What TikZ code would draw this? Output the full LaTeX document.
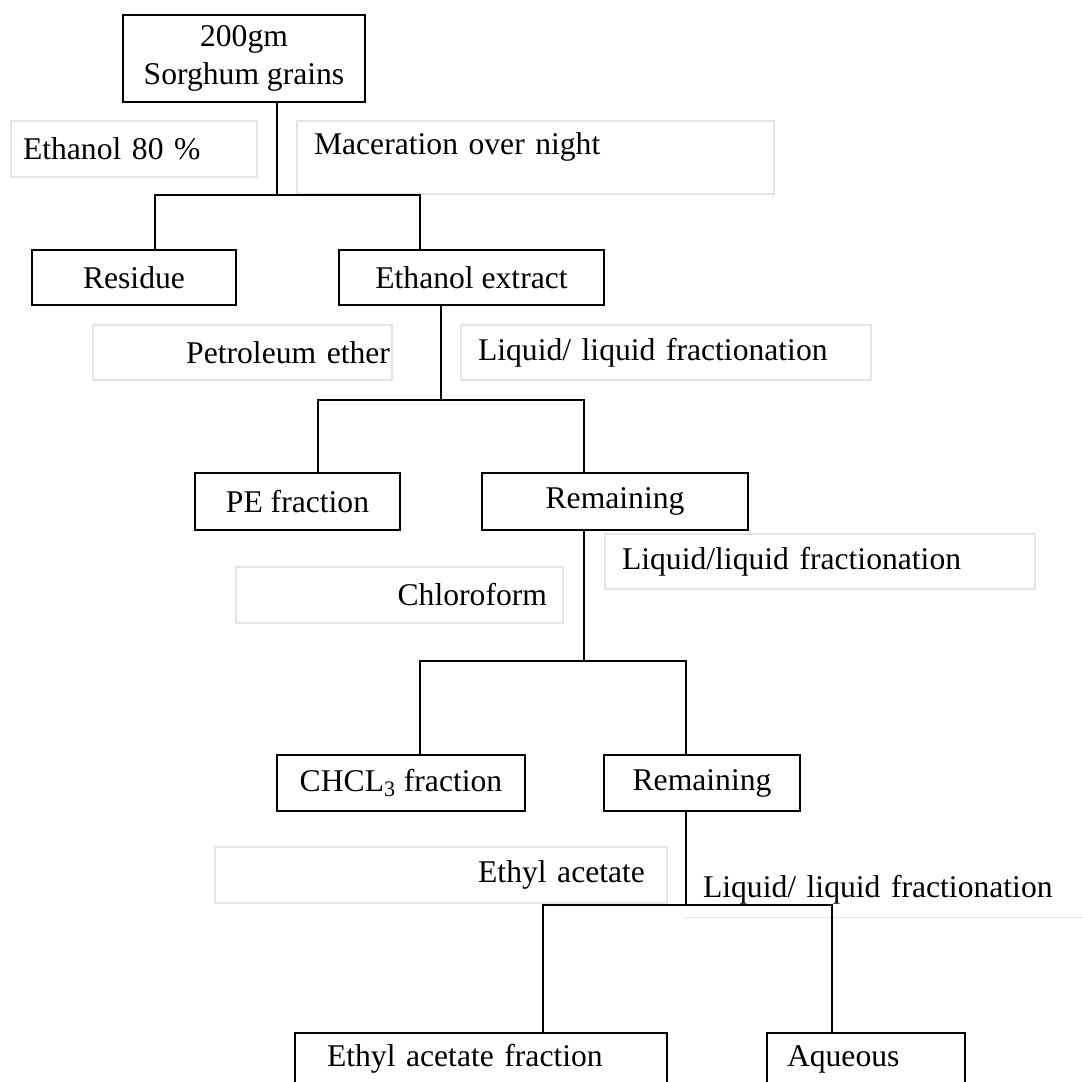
\documentclass[tikz,border=0pt]{standalone}
\usepackage{fontspec}
\setmainfont{Liberation Serif}
\usetikzlibrary{positioning}
\definecolor{faint}{HTML}{E4E4E4}

\begin{document}
\begin{tikzpicture}[x=0.02cm, y=-0.02cm,
      box/.style={draw, line width=1pt, align=center, inner sep=0pt, font=\fontsize{18}{22}\selectfont},
      note/.style={draw=faint, line width=0.7pt, inner ysep=0pt, font=\fontsize{18}{22}\selectfont},
      link/.style={line width=1pt}]
    \useasboundingbox (0,0) rectangle (1083,1082);
    % boxes
    \node[box, minimum width=4.84cm, minimum height=1.74cm] (grain) at (244,58.5) {200gm\\Sorghum grains};
    \node[box, minimum width=4.08cm, minimum height=1.10cm] (resid) at (134,277.5) {Residue};
    \node[box, minimum width=5.30cm, minimum height=1.10cm] (ethx) at (471.5,277.5) {Ethanol extract};
    \node[box, minimum width=4.10cm, minimum height=1.14cm] (pefr) at (297.5,501.5) {PE fraction};
    \node[box, minimum width=5.32cm, minimum height=1.14cm] (rema) at (615,501.5) {Remaining};
    \node[box, minimum width=4.96cm, minimum height=1.12cm] (chfr) at (401,783) {CHCL\textsubscript{3} fraction};
    \node[box, minimum width=3.92cm, minimum height=1.12cm] (remb) at (702,783) {Remaining};
    \node[box, text width=6.16cm, inner xsep=0.64cm, align=left, minimum height=1.04cm] (eafr) at (481,1059) {Ethyl acetate fraction};
    \node[box, text width=3.16cm, inner xsep=0.40cm, align=left, minimum height=1.04cm] (aque) at (866,1059) {Aqueous};
    % solvent / step notes
    \node[note, text width=4.44cm, inner xsep=0.24cm, align=left, minimum height=1.12cm] (etoh) at (134,149) {Ethanol 80 \%};
    \node[note, text width=8.86cm, inner xsep=0.34cm, align=left, minimum height=1.46cm, text depth=0.56cm] (macer) at (535.5,157.5) {Maceration over night};
    \node[note, text width=5.90cm, inner xsep=0.04cm, align=right, minimum height=1.10cm] (petr) at (242.5,352.5) {Petroleum ether};
    \node[note, text width=7.52cm, inner xsep=0.34cm, align=left, minimum height=1.10cm] (llfa) at (666,352.5) {Liquid/ liquid fractionation};
    \node[note, text width=7.92cm, inner xsep=0.34cm, align=left, minimum height=1.10cm] (llfb) at (820,561.5) {Liquid/liquid fractionation};
    \node[note, text width=5.90cm, inner xsep=0.32cm, align=right, minimum height=1.12cm] (chlo) at (399.5,595) {Chloroform};
    \node[note, text width=8.16cm, inner xsep=0.44cm, align=right, minimum height=1.12cm] (etac) at (441,875) {Ethyl acetate};
    \node[note, draw=none, text width=7.26cm, inner xsep=0.34cm, align=left, minimum height=1.10cm] (llfc) at (884.5,889.5) {Liquid/ liquid fractionation};
    \draw[faint, line width=0.7pt] (llfc.south west) -- (llfc.south east);
    % split points
    \coordinate (sa) at (277,195); \coordinate (sal) at (155,195); \coordinate (sar) at (420,195);
    \coordinate (sb) at (441,400); \coordinate (sbl) at (318,400); \coordinate (sbr) at (584,400);
    \coordinate (sc) at (584,661); \coordinate (scl) at (420,661); \coordinate (scr) at (686,661);
    \coordinate (sd) at (686,905); \coordinate (sdl) at (543,905); \coordinate (sdr) at (832,905);
    \draw[link] (sa |- grain.south) -- (sa);
    \draw[link] (sal |- resid.north) -- (sal) -- (sar) -- (sar |- ethx.north);
    \draw[link] (sb |- ethx.south) -- (sb);
    \draw[link] (sbl |- pefr.north) -- (sbl) -- (sbr) -- (sbr |- rema.north);
    \draw[link] (sc |- rema.south) -- (sc);
    \draw[link] (scl |- chfr.north) -- (scl) -- (scr) -- (scr |- remb.north);
    \draw[link] (sd |- remb.south) -- (sd);
    \draw[link] (sdl |- eafr.north) -- (sdl) -- (sdr) -- (sdr |- aque.north);
  \end{tikzpicture}
\end{document}
